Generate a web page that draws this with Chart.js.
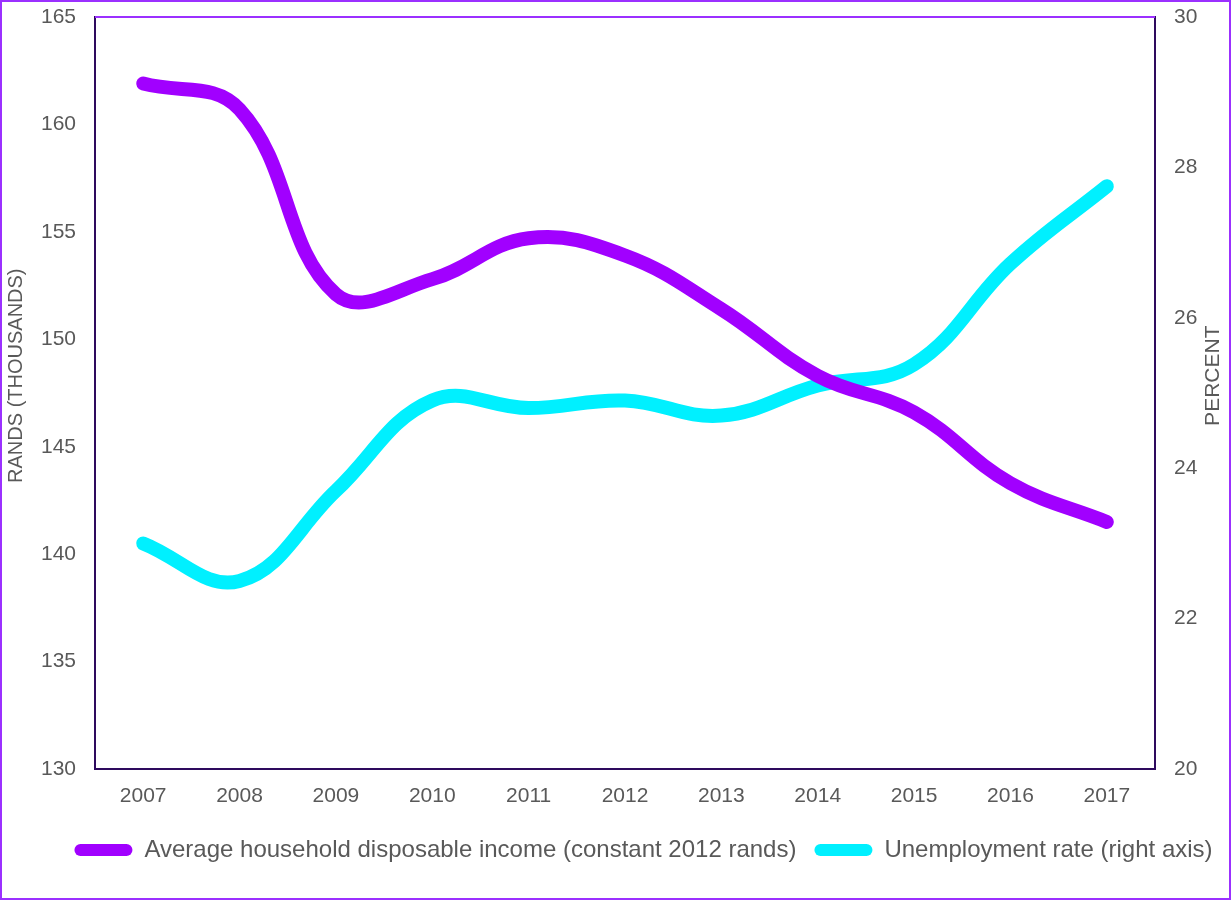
<!DOCTYPE html>
<html>
<head>
<meta charset="utf-8">
<script src="https://cdn.jsdelivr.net/npm/chart.js@4"></script>
<style>
    body { margin: 0; background: #fff; }
    #grafico { display: block; outline: 2px solid #9b30ff; outline-offset: -2px; }
</style>
</head>
<body>
<canvas id="grafico" width="1231" height="900"></canvas>
<script>
const anos = ["2007", "2008", "2009", "2010", "2011", "2012", "2013", "2014", "2015", "2016", "2017"];
const renda = [161.9, 160.7, 152.1, 152.8, 154.7, 153.9, 151.4, 148.3, 146.6, 143.3, 141.5];
const desemprego = [23.0, 22.5, 23.7, 24.9, 24.8, 24.9, 24.7, 25.1, 25.38, 26.72, 27.75];
const nomes = ["Average household disposable income (constant 2012 rands)", "Unemployment rate (right axis)"];
const titulos = ["RANDS (THOUSANDS)", "PERCENT"];

const corTexto = '#595959';
const corEixo = '#2e0a5e';
const fonte = '"Liberation Sans", Arial, sans-serif';

// borda superior da área do gráfico e títulos dos eixos (lidos de baixo pra cima)
const extras = {
    id: 'extras',
    afterLayout(chart) {
        // legenda um pouco à direita, como no original
        chart.legend.left += 28;
        chart.legend.right += 28;
    },
    afterDraw(chart) {
        const { ctx, chartArea } = chart;
        ctx.save();
        ctx.strokeStyle = '#9b30ff';
        ctx.lineWidth = 2;
        ctx.beginPath();
        ctx.moveTo(chartArea.left, chartArea.top);
        ctx.lineTo(chartArea.right, chartArea.top);
        ctx.stroke();
        ctx.fillStyle = corTexto;
        ctx.textAlign = 'center';
        ctx.textBaseline = 'middle';
        const meio = chartArea.top + (chartArea.bottom - chartArea.top) * 0.477;
        [[titulos[0], 16, 20], [titulos[1], 1213, 21]].forEach(([texto, x, tam]) => {
            ctx.save();
            ctx.font = tam + 'px ' + fonte;
            ctx.translate(x, meio);
            ctx.rotate(-Math.PI / 2);
            ctx.fillText(texto, 0, 0);
            ctx.restore();
        });
        ctx.restore();
    }
};

const legendaPadrao = Chart.defaults.plugins.legend.labels.generateLabels;

function ajustarEixoY(largura) {
    return (eixo) => {
        eixo.width = largura;
        eixo.paddingTop = 0;
        eixo.paddingBottom = 0;
    };
}

new Chart(document.getElementById('grafico'), {
    type: 'line',
    data: {
        labels: anos,
        datasets: [
            {
                label: nomes[0],
                data: renda,
                yAxisID: 'y',
                borderColor: '#a100ff',
                backgroundColor: '#a100ff',
                borderWidth: 14,
                borderCapStyle: 'round',
                pointRadius: 0,
                tension: 0.4
            },
            {
                label: nomes[1],
                data: desemprego,
                yAxisID: 'y1',
                borderColor: '#00f0ff',
                backgroundColor: '#00f0ff',
                borderWidth: 14,
                borderCapStyle: 'round',
                pointRadius: 0,
                tension: 0.4
            }
        ]
    },
    options: {
        responsive: false,
        animation: false,
        layout: { padding: { top: 17, bottom: 28, left: 0, right: 0 } },
        scales: {
            x: {
                offset: true,
                grid: { display: false, drawTicks: false },
                border: { color: corEixo, width: 2 },
                ticks: { color: corTexto, font: { family: fonte, size: 21 }, padding: 15, maxRotation: 0 },
                afterFit: (eixo) => { eixo.height = 51; }
            },
            y: {
                position: 'left',
                min: 130,
                max: 165,
                grid: { display: false, drawTicks: false },
                border: { color: corEixo, width: 2 },
                ticks: { stepSize: 5, color: corTexto, font: { family: fonte, size: 21 }, padding: 19 },
                afterFit: ajustarEixoY(95)
            },
            y1: {
                position: 'right',
                min: 20,
                max: 30,
                grid: { display: false, drawTicks: false },
                border: { color: corEixo, width: 2 },
                ticks: { stepSize: 2, color: corTexto, font: { family: fonte, size: 21 }, padding: 19 },
                afterFit: ajustarEixoY(76)
            }
        },
        plugins: {
            legend: {
                position: 'bottom',
                labels: {
                    color: corTexto,
                    font: { family: fonte, size: 24 },
                    boxWidth: 58,
                    boxHeight: 12,
                    useBorderRadius: true,
                    borderRadius: 6,
                    padding: 18,
                    generateLabels: (chart) => legendaPadrao(chart).map(item => ({ ...item, lineWidth: 0 }))
                }
            },
            tooltip: { enabled: false }
        }
    },
    plugins: [extras]
});
</script>
</body>
</html>
